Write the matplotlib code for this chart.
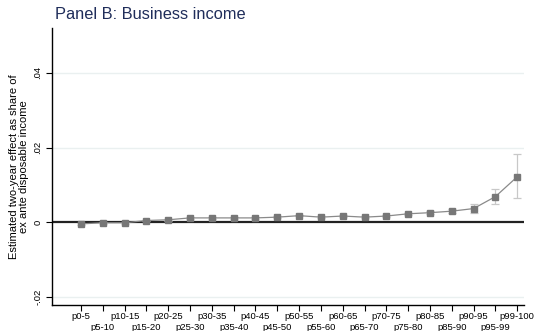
import matplotlib.pyplot as plt
import numpy as np

# percentile groups of ex ante disposable income
groups = ['p0-5', 'p5-10', 'p10-15', 'p15-20', 'p20-25', 'p25-30', 'p30-35',
          'p35-40', 'p40-45', 'p45-50', 'p50-55', 'p55-60', 'p60-65', 'p65-70',
          'p70-75', 'p75-80', 'p80-85', 'p85-90', 'p90-95', 'p95-99', 'p99-100']

effect = [-0.0004, -0.0001, -0.0001, 0.0005, 0.0007, 0.0012, 0.0012,
          0.0012, 0.0012, 0.0014, 0.0018, 0.0014, 0.0017, 0.0014,
          0.0017, 0.0023, 0.0026, 0.0030, 0.0037, 0.0069, 0.0122]
ci_low = [-0.0007, -0.0003, -0.0003, 0.0003, 0.0005, 0.0010, 0.0010,
          0.0010, 0.0010, 0.0012, 0.0016, 0.0012, 0.0015, 0.0012,
          0.0015, 0.0020, 0.0022, 0.0024, 0.0026, 0.0048, 0.0066]
ci_high = [-0.0001, 0.0001, 0.0001, 0.0007, 0.0009, 0.0014, 0.0014,
           0.0014, 0.0014, 0.0016, 0.0020, 0.0016, 0.0019, 0.0016,
           0.0019, 0.0026, 0.0030, 0.0036, 0.0050, 0.0090, 0.0182]

plt.rcParams['font.family'] = ['Liberation Sans', 'DejaVu Sans']

fig = plt.figure(figsize=(5.36, 3.31), dpi=100)
ax = fig.add_axes([0.097, 0.0785, 0.881, 0.837])

x = np.arange(len(groups))
eff = np.array(effect)
err = [eff - np.array(ci_low), np.array(ci_high) - eff]

# light grid at the labelled y values
for yv in [-0.02, 0.02, 0.04]:
    ax.axhline(yv, color='#eaf0f0', lw=1, zorder=0)
ax.axhline(0, color='#222222', lw=1.6, zorder=1)

ax.errorbar(x, eff, yerr=err, fmt='none', ecolor='#c8c8c8', elinewidth=0.9,
            capsize=3, capthick=0.9, zorder=2)
ax.plot(x, eff, color='#8a8a8a', lw=0.9, marker='s', markersize=5,
        markerfacecolor='#777777', markeredgecolor='#777777', zorder=3)

ax.set_xlim(-1.33, len(groups) - 0.68)
ax.set_ylim(-0.0221, 0.052)

# alternate labels on two rows: major ticks on top row, minor ticks below
ax.set_xticks(x[::2])
ax.set_xticklabels(groups[::2], fontsize=6.8)
ax.set_xticks(x[1::2], minor=True)
ax.set_xticklabels(groups[1::2], minor=True, fontsize=6.8)
ax.tick_params(axis='x', which='major', length=4, width=0.8, pad=1)
ax.tick_params(axis='x', which='minor', length=4, width=0.8, pad=9)

ax.set_yticks([-0.02, 0, 0.02, 0.04])
ax.set_yticklabels(['-.02', '0', '.02', '.04'], fontsize=6.8, rotation=90, va='center')
ax.tick_params(axis='y', length=4, width=0.8, pad=3)

for side in ['top', 'right']:
    ax.spines[side].set_visible(False)
ax.spines['left'].set_linewidth(1)
ax.spines['bottom'].set_linewidth(1)

ax.set_ylabel('Estimated two-year effect as share of\nex ante disposable income',
              fontsize=8, linespacing=1.0, labelpad=3)
fig.text(0.103, 0.957, 'Panel B: Business income', fontsize=11.8,
         color='#1f2d5a', ha='left', va='center')

fig.savefig('out.png', dpi=100)
